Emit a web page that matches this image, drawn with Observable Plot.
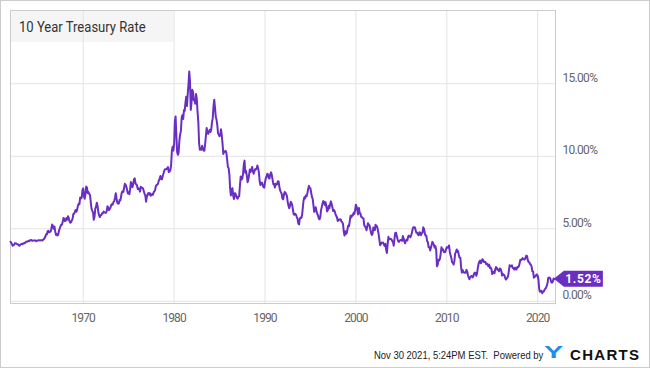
<!DOCTYPE html>
<html><head><meta charset="utf-8">
<script src="https://cdn.jsdelivr.net/npm/d3@7"></script>
<script src="https://cdn.jsdelivr.net/npm/@observablehq/plot@0.6"></script>
<style>
html,body{margin:0;padding:0;background:#fff;}
#wrap{position:relative;width:650px;height:368px;overflow:hidden;font-family:Roboto,sans-serif;}
#titlebox{position:absolute;left:10px;top:10px;width:163px;height:32px;background:#f5f5f5;z-index:0}
#chart{position:absolute;left:0;top:0;z-index:1}
#title{position:absolute;left:19px;top:18px;font-size:15px;line-height:18px;color:#333;transform:scaleX(0.87);transform-origin:0 0;white-space:nowrap;z-index:2}
#footer{position:absolute;left:374px;top:348.5px;font-family:"Liberation Sans",Arial,sans-serif;font-size:11px;line-height:12px;color:#222;transform:scaleX(0.86);transform-origin:0 0;white-space:nowrap;z-index:2}
#logoY{position:absolute;left:544px;top:345px;font-family:"Liberation Sans",Arial,sans-serif;font-weight:bold;font-size:16px;line-height:16px;color:#1f8fe5;transform:scaleX(1.8);transform-origin:0 0;z-index:2}
#logo{position:absolute;left:570px;top:346.6px;font-family:"Liberation Sans",Arial,sans-serif;font-weight:bold;font-size:15px;line-height:15px;color:#111;letter-spacing:1.3px;white-space:nowrap;z-index:2}
#border{position:absolute;left:0;top:0;width:648px;height:366px;border:1px solid #ccc;pointer-events:none;z-index:3}
</style>
</head><body>
<div id="wrap">
  <div id="titlebox"></div>
  <div id="chart"></div>
  <div id="title">10 Year Treasury Rate</div>
  <div id="footer">Nov 30 2021, 5:24PM EST.&nbsp; Powered by</div>
  <div id="logoY">Y</div>
  <div id="logo">CHARTS</div>
  <div id="border"></div>
</div>
<script>
// Monthly 10-year treasury rate (%), starting Jan 1962
const startYear = 1962;
const rates1960s = [
  4.10,4.04,3.93,3.84,3.87,3.91,4.01,3.98,3.98,3.93,3.92,3.86,
  3.83,3.92,3.93,3.97,3.93,3.99,4.02,4.00,4.08,4.11,4.12,4.13,
  4.17,4.15,4.22,4.23,4.20,4.17,4.19,4.19,4.20,4.19,4.15,4.18,
  4.19,4.21,4.21,4.20,4.21,4.21,4.20,4.25,4.29,4.35,4.45,4.62,
  4.61,4.83,4.87,4.75,4.78,4.81,5.02,5.30,5.18,5.01,5.16,4.84,
  4.58,4.63,4.54,4.59,4.85,5.02,5.16,5.28,5.30,5.48,5.75,5.70,
  5.53,5.56,5.74,5.64,5.87,5.72,5.50,5.42,5.46,5.58,5.70,6.03,
  6.04,6.19,6.30,6.17,6.32,6.57,6.72,6.69,7.16,7.10,7.14,7.65
];
const rates1970s = [
  7.79,7.24,7.07,7.39,7.91,7.84,7.46,7.53,7.39,7.33,6.84,6.39,
  6.24,6.11,5.62,5.83,6.39,6.52,6.80,6.58,6.14,5.93,5.81,5.93,
  5.95,6.08,6.07,6.19,6.13,6.11,6.11,6.21,6.55,6.48,6.28,6.36,
  6.46,6.64,6.71,6.67,6.85,6.90,7.13,7.45,7.09,6.79,6.73,6.74,
  6.99,6.96,7.21,7.51,7.58,7.54,7.81,8.10,8.04,7.90,7.68,7.43,
  7.50,7.39,7.73,8.23,8.06,7.86,8.06,8.40,8.48,8.14,8.05,8.00,
  7.74,7.79,7.73,7.56,7.90,7.86,7.83,7.77,7.59,7.41,7.29,6.87,
  7.21,7.39,7.46,7.37,7.46,7.28,7.33,7.40,7.34,7.52,7.58,7.69,
  7.96,8.03,8.04,8.15,8.35,8.46,8.64,8.41,8.42,8.64,8.81,9.01,
  9.10,9.10,9.12,9.18,9.25,8.91,8.95,9.03,9.33,10.30,10.65,10.39
];
const rates1980s = [
  10.80,12.41,12.75,11.47,10.30,10.10,10.25,11.10,11.51,11.75,12.68,12.84,
  12.57,13.19,13.12,13.68,14.10,13.47,14.28,14.94,15.84,15.15,13.20,13.72,
  14.59,14.43,13.86,13.87,13.62,14.30,13.95,13.06,12.34,10.91,10.45,10.54,
  10.46,10.72,10.51,10.40,10.38,10.85,11.38,11.95,11.65,11.54,11.69,11.83,
  11.67,11.84,12.32,12.63,13.41,13.90,13.36,12.72,12.52,12.16,11.57,11.50,
  11.38,11.51,11.86,11.43,10.85,10.16,10.31,10.33,10.37,10.24,9.78,9.26,
  9.19,8.70,7.78,7.30,7.71,7.80,7.30,7.05,7.45,7.43,7.25,7.11,
  7.08,7.25,7.25,8.02,8.61,8.40,8.45,8.76,9.42,9.70,8.86,8.99,
  8.67,8.21,8.37,8.72,9.09,8.92,9.06,9.26,8.98,8.80,8.96,9.11,
  9.09,9.17,9.36,9.18,8.86,8.28,8.02,8.11,8.19,8.01,7.87,7.84
];
const rates1990s = [
  8.21,8.47,8.59,8.79,8.76,8.48,8.47,8.75,8.89,8.72,8.39,8.08,
  8.09,7.85,8.11,8.04,8.07,8.28,8.27,7.90,7.65,7.53,7.42,7.09,
  7.03,7.34,7.54,7.48,7.39,7.26,6.84,6.59,6.42,6.59,6.87,6.77,
  6.60,6.26,5.98,5.97,6.04,5.96,5.81,5.68,5.36,5.30,5.72,5.77,
  5.75,5.97,6.48,6.97,7.18,7.10,7.30,7.24,7.46,7.74,7.96,7.81,
  7.78,7.47,7.20,7.06,6.63,6.17,6.28,6.49,6.20,6.04,5.93,5.71,
  5.65,5.81,6.27,6.51,6.74,6.91,6.87,6.64,6.83,6.53,6.20,6.30,
  6.58,6.42,6.69,6.89,6.71,6.49,6.22,6.30,6.21,6.03,5.88,5.81,
  5.54,5.57,5.65,5.64,5.65,5.50,5.46,5.34,4.81,4.53,4.83,4.65,
  4.72,5.00,5.23,5.18,5.54,5.90,5.79,5.94,5.92,6.11,6.03,6.28
];
const rates2000s = [
  6.66,6.52,6.26,5.99,6.44,6.10,6.05,5.83,5.80,5.74,5.72,5.24,
  5.16,5.10,4.89,5.14,5.39,5.28,5.24,4.97,4.73,4.57,4.65,5.09,
  5.04,4.91,5.28,5.21,5.16,4.93,4.65,4.26,3.87,3.94,4.05,4.03,
  4.05,3.90,3.81,3.96,3.57,3.33,3.98,4.45,4.27,4.29,4.30,4.27,
  4.15,4.08,3.83,4.35,4.72,4.73,4.50,4.28,4.13,4.10,4.19,4.23,
  4.22,4.17,4.50,4.34,4.14,4.00,4.18,4.26,4.20,4.46,4.54,4.47,
  4.42,4.57,4.72,4.99,5.11,5.11,5.09,4.88,4.72,4.73,4.60,4.56,
  4.76,4.72,4.56,4.69,4.75,5.10,5.00,4.67,4.52,4.53,4.15,4.10,
  3.74,3.74,3.51,3.68,3.88,4.10,4.01,3.89,3.69,3.81,3.53,2.42,
  2.52,2.87,2.82,2.93,3.29,3.72,3.56,3.59,3.40,3.39,3.40,3.59
];
const rates2010s = [
  3.73,3.69,3.73,3.85,3.42,3.20,3.01,2.70,2.65,2.54,2.76,3.29,
  3.39,3.58,3.41,3.46,3.17,3.00,3.00,2.30,1.98,2.15,2.01,1.98,
  1.97,1.97,2.17,2.05,1.80,1.62,1.53,1.68,1.72,1.75,1.65,1.72,
  1.91,1.98,1.96,1.76,1.93,2.30,2.58,2.74,2.81,2.62,2.72,2.90,
  2.86,2.71,2.72,2.71,2.56,2.60,2.54,2.42,2.53,2.30,2.33,2.21,
  1.88,1.98,2.04,1.94,2.20,2.36,2.32,2.17,2.17,2.07,2.26,2.24,
  2.09,1.78,1.89,1.81,1.81,1.64,1.50,1.56,1.63,1.76,2.14,2.49,
  2.43,2.42,2.48,2.30,2.30,2.19,2.32,2.21,2.20,2.36,2.35,2.40,
  2.58,2.86,2.84,2.87,2.98,2.91,2.89,2.89,3.00,3.15,3.12,2.83,
  2.71,2.68,2.57,2.53,2.40,2.07,2.06,1.63,1.70,1.71,1.81,1.86
];
const rates2020s = [
  1.76,1.50,0.87,0.66,0.67,0.73,0.55,0.65,0.68,0.79,0.87,0.93,
  1.08,1.26,1.61,1.64,1.62,1.52,1.32,1.28,1.37,1.58,1.52
];
const xTickYears = [1970, 1980, 1990, 2000, 2010, 2020];
const yTicks = [0, 5, 10, 15];

const allRates = [...rates1960s, ...rates1970s, ...rates1980s, ...rates1990s, ...rates2000s, ...rates2010s, ...rates2020s];
const data = allRates.map((v, i) => ({date: new Date(Date.UTC(startYear, i, 1)), rate: v}));
const last = data[data.length - 1];
const xTicks = xTickYears.map(y => new Date(Date.UTC(y, 0, 1)));
const purple = "#6a2ec2";

const plot = Plot.plot({
  width: 650, height: 368,
  marginTop: 10, marginLeft: 10, marginRight: 95, marginBottom: 65,
  style: "font-family:Roboto,sans-serif;font-size:12px;color:#666;background:transparent;",
  x: {type: "utc", domain: [new Date(Date.UTC(1962, 0, 1)), new Date(Date.UTC(2021, 11, 17))]},
  y: {domain: [-0.15, 20.05]},
  marks: [
    Plot.gridX(xTicks, {stroke: "#e3e3e3", strokeOpacity: 1}),
    Plot.gridY(yTicks, {stroke: "#e3e3e3", strokeOpacity: 1}),
    Plot.frame({stroke: "#cccccc"}),
    Plot.axisX(xTicks, {label: null, tickSize: 0, tickPadding: 10, tickFormat: d => String(d.getUTCFullYear())}),
    Plot.axisY(yTicks, {label: null, anchor: "right", tickSize: 0, tickPadding: 7, dy: -6, tickFormat: d => d.toFixed(2) + "%"}),
    Plot.line(data, {x: "date", y: "rate", stroke: purple, strokeWidth: 2, strokeLinejoin: "round"})
  ]
});
document.getElementById("chart").appendChild(plot);

// tighter tick labels (condensed look)
plot.querySelectorAll('g[aria-label="x-axis tick label"]').forEach(gr => gr.style.letterSpacing = "-0.9px");
plot.querySelectorAll('g[aria-label="y-axis tick label"]').forEach(gr => gr.style.letterSpacing = "-0.7px");

// end value tag, positioned via the plot's scales
const sx = plot.scale("x"), sy = plot.scale("y");
const px = sx.apply(last.date), py = sy.apply(last.rate);
const g = d3.select(plot).append("g");
g.append("path")
  .attr("d", `M${px},${py}L${px + 10},${py - 8}H${px + 49}V${py + 8}H${px + 10}Z`)
  .attr("fill", purple);
g.append("text")
  .attr("x", px + 29.5).attr("y", py)
  .attr("dy", "0.35em")
  .attr("text-anchor", "middle")
  .attr("fill", "#fff")
  .attr("font-weight", "bold")
  .attr("font-size", 12)
  .attr("letter-spacing", "0.6px")
  .text(last.rate.toFixed(2) + "%");
</script>
</body></html>
